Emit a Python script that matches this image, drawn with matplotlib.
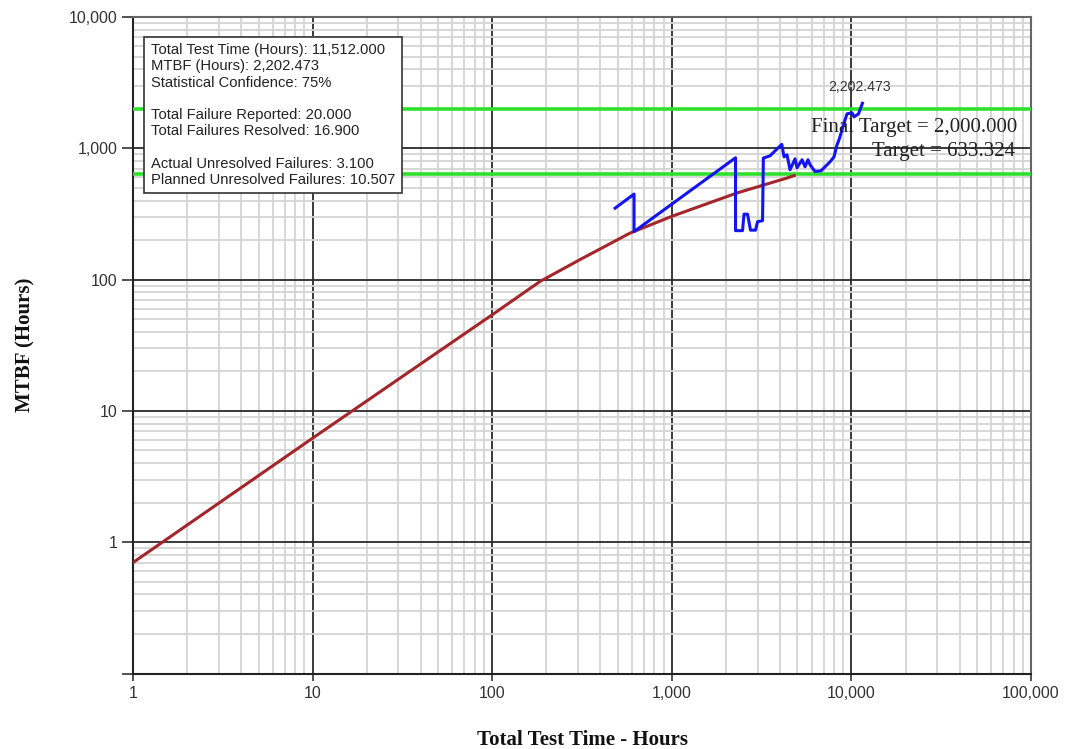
import matplotlib
matplotlib.use("Agg")
import matplotlib.pyplot as plt
from matplotlib.ticker import FuncFormatter, LogLocator, NullFormatter

# ---- data ----
planned_hours = [1, 10, 100, 185, 308, 585, 998, 2296, 4365, 4800]
planned_mtbf = [0.70, 6.2, 54, 97, 142, 226, 303, 456, 593, 620]

actual_hours = [483, 616, 616, 2263, 2263, 2475, 2523, 2640, 2742, 2924, 3000, 3199,
                3233, 3523, 4093, 4215, 4378, 4550, 4853, 4979, 5309, 5515, 5730, 5883,
                6270, 6771, 7603, 8000, 8280, 8564, 8867, 9213, 9452, 10077, 10340,
                10953, 11512]
actual_mtbf = [350, 448, 232, 847, 236, 236, 315, 315, 238, 238, 276, 281,
               842, 877, 1072, 861, 892, 686, 832, 711, 818, 723, 818, 749,
               666, 674, 789, 861, 1045, 1181, 1383, 1647, 1830, 1862, 1736,
               1830, 2202.473]

final_target = 2000.0
target = 633.324

x_ticks = [1, 10, 100, 1000, 10000, 100000]
y_ticks = [0.1, 1, 10, 100, 1000, 10000]

info_lines = [
    "Total Test Time (Hours): 11,512.000",
    "MTBF (Hours): 2,202.473",
    "Statistical Confidence: 75%",
    "",
    "Total Failure Reported: 20.000",
    "Total Failures Resolved: 16.900",
    "",
    "Actual Unresolved Failures: 3.100",
    "Planned Unresolved Failures: 10.507",
]

# ---- figure ----
fig = plt.figure(figsize=(10.66, 7.49), dpi=100)
ax = fig.add_axes([0.1248, 0.1008, 0.8424, 0.8765])
ax.set_xscale("log")
ax.set_yscale("log")
ax.set_xlim(1, 100000)
ax.set_ylim(0.1, 10000)

sans = ["Liberation Sans", "DejaVu Sans"]
serif = ["Liberation Serif", "DejaVu Serif"]

ax.xaxis.set_minor_locator(LogLocator(base=10, subs=range(2, 10), numticks=20))
ax.yaxis.set_minor_locator(LogLocator(base=10, subs=range(2, 10), numticks=20))
ax.xaxis.set_minor_formatter(NullFormatter())
ax.yaxis.set_minor_formatter(NullFormatter())
ax.grid(which="minor", color="#d4d4d4", linewidth=1.3, zorder=0)
ax.grid(which="major", color="#2a2a2a", linewidth=1.3, zorder=1)
ax.set_axisbelow(True)

ax.set_xticks(x_ticks)
ax.set_yticks(y_ticks)
ax.xaxis.set_major_formatter(FuncFormatter(lambda v, p: f"{v:,.0f}"))
ax.yaxis.set_major_formatter(FuncFormatter(lambda v, p: "" if v < 1 else f"{v:,.0f}"))
ax.tick_params(axis="x", which="major", length=5, width=1.2, color="#333333",
               labelsize=11.5, pad=4)
ax.tick_params(axis="y", which="major", length=8, width=1.2, color="#333333",
               labelsize=11.5, pad=3)
ax.tick_params(which="minor", length=0)
for lab in ax.get_xticklabels() + ax.get_yticklabels():
    lab.set_family(sans)
    lab.set_color("#333333")

for s in ["left", "bottom"]:
    ax.spines[s].set_color("#222222")
    ax.spines[s].set_linewidth(1.5)
for s in ["top", "right"]:
    ax.spines[s].set_color("#666666")
    ax.spines[s].set_linewidth(1.5)

ax.axhline(final_target, color="#2ee02e", linewidth=2.6, zorder=3)
ax.axhline(target, color="#2ee02e", linewidth=2.6, zorder=3)

ax.plot(planned_hours, planned_mtbf, color="#a3262a", linewidth=2.2, zorder=4)
ax.plot(actual_hours, actual_mtbf, color="#1414f0", linewidth=2.2, zorder=5)

ax.annotate("2,202.473", (actual_hours[-1], actual_mtbf[-1]), xytext=(-2, 7),
            textcoords="offset points", ha="center", va="bottom",
            fontsize=10.2, family=sans, color="#333333", zorder=6)
ax.text(0.985, 0.8324, "Final Target = 2,000.000", transform=ax.transAxes,
        ha="right", va="center", fontsize=15, family=serif, color="#222222", zorder=6)
ax.text(0.982, 0.7944, "Target = 633.324", transform=ax.transAxes,
        ha="right", va="center", fontsize=15, family=serif, color="#222222", zorder=6)

ax.text(0.0195, 0.960, "\n".join(info_lines), transform=ax.transAxes,
        ha="left", va="top", fontsize=10.6, family=sans, color="#222222",
        linespacing=1.2, zorder=7,
        bbox=dict(boxstyle="square,pad=0.45", facecolor="white",
                  edgecolor="#333333", linewidth=1.2))

ax.set_xlabel("Total Test Time - Hours", family=serif, fontweight="bold",
              fontsize=15, labelpad=21, color="#111111")
ax.set_ylabel("MTBF (Hours)", family=serif, fontweight="bold",
              fontsize=15, labelpad=24, color="#111111")

fig.savefig("out.png", dpi=100)
